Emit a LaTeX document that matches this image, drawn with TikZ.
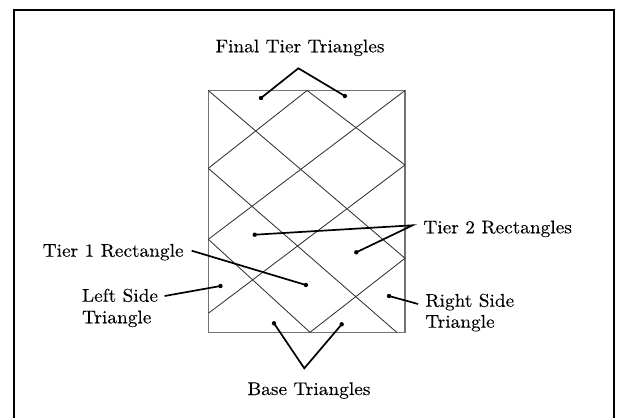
\documentclass[tikz,border=0pt]{standalone}
\usepackage{fontspec}
\setmainfont{lmroman10-regular.otf}[FakeStretch=1.05,FakeBold=0.15]
\begin{document}
\begin{tikzpicture}[x=1pt,y=-1pt,
  lbl/.style={inner sep=0pt,font=\fontsize{18.4}{22}\selectfont},
  frameline/.style={line width=2pt,black},
  boxedge/.style={line width=1.3pt,draw=black!55},
  diag/.style={line width=0.85pt,draw=black!80},
  leader/.style={line width=1.7pt,black},
  dotmark/.style={circle,fill=black,inner sep=0pt,minimum size=4.4pt}]
\useasboundingbox (0,0) rectangle (619,418);
% outer frame (open at bottom)
\draw[frameline] (14,418) -- (14,10) -- (614.3,10) -- (614.3,418);

% rectangle corners and lattice vertices
\coordinate (TL) at (208.3,90.5);
\coordinate (TR) at (405,90.5);
\coordinate (BR) at (405,332.3);
\coordinate (BL) at (208.3,332.3);
\coordinate (TA) at (307.1,90.5);
\coordinate (L1) at (208.3,168.3);
\coordinate (L2) at (208.3,239.3);
\coordinate (L3) at (208.3,313.3);
\coordinate (R1) at (405,165);
\coordinate (R2) at (405,258.3);
\coordinate (BA) at (310,332.3);
\coordinate (BE) at (396.7,332.3);

\draw[boxedge] (TL) -- (TR) -- (BR) -- (BL) -- cycle;
\draw[diag] (TL) -- (R2);
\draw[diag] (L1) -- (BE);
\draw[diag] (L2) -- (BA);
\draw[diag] (TA) -- (R1);
\draw[diag] (L1) -- (TA);
\draw[diag] (L2) -- (TR);
\draw[diag] (L3) -- (R1);
\draw[diag] (BA) -- (R2);

% labels
\node[lbl,anchor=base] (ft) at (300,52.3) {Final Tier Triangles};
\node[lbl,anchor=base west] (t2) at (423.2,233.3) {Tier 2 Rectangles};
\node[lbl,anchor=base west] (t1) at (42.5,256.7) {Tier 1 Rectangle};
\node[lbl,anchor=base west] (ls1) at (81.9,301.7) {Left Side};
\node[lbl,anchor=base west] (ls2) at (81.9,323.3) {Triangle};
\node[lbl,anchor=base west] (rs1) at (425.2,306.7) {Right Side};
\node[lbl,anchor=base west] (rs2) at (425.2,327.7) {Triangle};
\node[lbl,anchor=base] (bt) at (309,395) {Base Triangles};

% leader points
\coordinate (ftA) at (298.4,68.3);
\node[dotmark] (ftD1) at (261,98) {};
\node[dotmark] (ftD2) at (344.9,96) {};
\coordinate (t2A) at (412.6,225.3);
\node[dotmark] (t2D1) at (254.7,234.7) {};
\node[dotmark] (t2D2) at (356.3,252.3) {};
\coordinate (t1S) at (191.7,250.7);
\node[dotmark] (t1D) at (305.9,285) {};
\coordinate (lsS) at (164.6,296);
\node[dotmark] (lsD) at (220.5,286) {};
\coordinate (rsS) at (418.1,304);
\node[dotmark] (rsD) at (389,296) {};
\coordinate (btA) at (304.3,368.3);
\node[dotmark] (btD1) at (274,323.3) {};
\node[dotmark] (btD2) at (341.7,324.3) {};

% leaders
\draw[leader] (ftD1.center) -- (ftA) -- (ftD2.center);
\draw[leader] (t2D1.center) -- (t2A) -- (t2D2.center);
\draw[leader] (t1S) -- (t1D.center);
\draw[leader] (lsS) -- (lsD.center);
\draw[leader] (rsS) -- (rsD.center);
\draw[leader] (btD1.center) -- (btA) -- (btD2.center);
\end{tikzpicture}
\end{document}
